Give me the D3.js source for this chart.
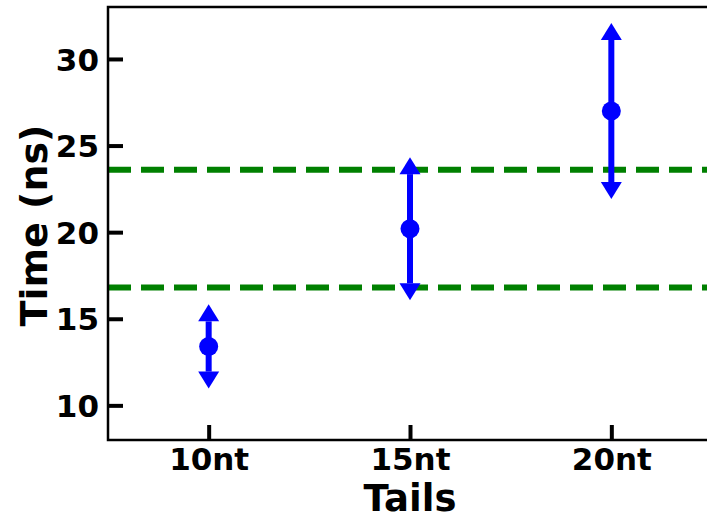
<!DOCTYPE html>
<html><head><meta charset="utf-8">
<script src="https://cdn.jsdelivr.net/npm/d3@7"></script>
<style>body{margin:0;background:#fff;overflow:hidden}svg{display:block}</style>
</head><body>
<script>
const categories = ["10nt", "15nt", "20nt"];
const means = [13.4, 20.2, 27.0];
const errors = [1.45, 3.15, 4.1];
const refLines = [16.8, 23.6];
const yTicks = [10, 15, 20, 25, 30];
const xLabel = "Tails";
const yLabel = "Time (ns)";

const W = 707, H = 516;
const m = {left: 108, top: 7, right: 712, bottom: 440};
const svg = d3.select("body").append("svg").attr("width", W).attr("height", H);
const font = "'DejaVu Sans', sans-serif";

const x = d3.scaleLinear().domain([-0.5, 2.5]).range([m.left, m.right]);
const y = d3.scaleLinear().domain([8, 33]).range([m.bottom, m.top]);

// reference lines
svg.selectAll("line.ref").data(refLines).enter().append("line")
  .attr("x1", m.left).attr("x2", m.right)
  .attr("y1", d => y(d)).attr("y2", d => y(d))
  .attr("stroke", "#008000").attr("stroke-width", 6).attr("stroke-dasharray", "23,10");

const g = svg.selectAll("g.pt").data(categories.map((c, i) => ({c, i, m: means[i], e: errors[i]})))
  .enter().append("g");
g.append("line")
  .attr("x1", d => x(d.i)).attr("x2", d => x(d.i))
  .attr("y1", d => y(d.m + d.e)).attr("y2", d => y(d.m - d.e))
  .attr("stroke", "blue").attr("stroke-width", 6);
const aw = 10.5, ah = 17;
g.append("path").attr("fill", "blue")
  .attr("d", d => { const cx = x(d.i), by = y(d.m + d.e); return `M${cx-aw},${by}L${cx+aw},${by}L${cx},${by-ah}Z`; });
g.append("path").attr("fill", "blue")
  .attr("d", d => { const cx = x(d.i), by = y(d.m - d.e); return `M${cx-aw},${by}L${cx+aw},${by}L${cx},${by+ah}Z`; });
g.append("circle").attr("cx", d => x(d.i)).attr("cy", d => y(d.m)).attr("r", 9.5).attr("fill", "blue");

// axes
const yAxis = d3.axisLeft(y).tickValues(yTicks).tickSize(-15).tickPadding(9).tickFormat(d3.format("d"));
const gy = svg.append("g").attr("transform", `translate(${m.left},0)`).call(yAxis);
const xAxis = d3.axisBottom(x).tickValues([0, 1, 2]).tickSize(-15).tickPadding(8).tickFormat(i => categories[i]);
const gx = svg.append("g").attr("transform", `translate(0,${m.bottom})`).call(xAxis);
[gx, gy].forEach(a => {
  a.select(".domain").remove();
  a.selectAll(".tick line").attr("stroke", "#000").attr("stroke-width", 4);
  a.selectAll(".tick text").attr("fill", "#000").style("font-family", font).style("font-weight", "bold").style("font-size", "31px");
});
gy.selectAll(".tick text").attr("dy", "0.36em");
gx.selectAll(".tick text").attr("dy", "0.72em");

// spines
svg.append("rect").attr("x", m.left).attr("y", m.top).attr("width", m.right - m.left).attr("height", m.bottom - m.top)
  .attr("fill", "none").attr("stroke", "#000").attr("stroke-width", 2.5);

svg.append("text").attr("x", x(1)).attr("y", 511).attr("text-anchor", "middle")
  .style("font-family", font).style("font-weight", "bold").style("font-size", "37px").text(xLabel);
svg.append("text").attr("transform", `translate(47,${(m.top + m.bottom) / 2 + 2}) rotate(-90)`).attr("text-anchor", "middle")
  .style("font-family", font).style("font-weight", "bold").style("font-size", "38px").text(yLabel);
</script>
</body></html>
